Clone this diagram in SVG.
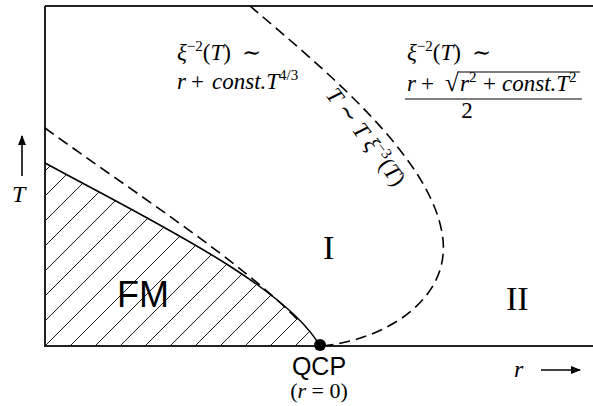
<svg xmlns="http://www.w3.org/2000/svg" width="593" height="406" viewBox="0 0 593 406">
<defs>
<pattern id="hatch" patternUnits="userSpaceOnUse" x="16" y="0" width="25" height="25">
<path d="M-5,5 L5,-5 M0,25 L25,0 M20,30 L30,20" stroke="#000" stroke-width="0.9" fill="none"/>
</pattern>
<marker id="ah" markerWidth="10" markerHeight="8" refX="9" refY="4" orient="auto" markerUnits="userSpaceOnUse">
<path d="M0,0 L10,4 L0,8 Z" fill="#000"/>
</marker>
</defs>
<style>
.ax{stroke:#222;stroke-width:2;fill:none}
.dash{stroke:#000;stroke-width:1.6;fill:none;stroke-dasharray:11,6}
.sol{stroke:#000;stroke-width:1.6;fill:none}
.m{font-family:"Liberation Serif","DejaVu Serif",serif;font-size:23px;fill:#000}
.i{font-style:italic}
.sup{font-size:15px}
.sans{font-family:"Liberation Sans",Arial,sans-serif;fill:#000}
.ser{font-family:"Liberation Serif",serif;fill:#000}
</style>
<g id="region-fm">
<path d="M45,163 C150,220 285,285 320,346 L45,346 Z" fill="url(#hatch)"/>
</g>
<g id="axes">
<path class="ax" d="M45,6 L593,6 M45,6 L45,346 L593,346"/>
</g>
<g id="connectors">
<path id="fm-boundary" class="sol" d="M45,163 C150,220 285,285 320,346"/>
<path id="crossover-low" class="dash" d="M45,128 C130,190 240,260 300,322"/>
<path id="crossover-high" class="dash" d="M250,6 C325,70 435,160 443,240 C449,300 385,340 322,346"/>
<line x1="22" y1="176" x2="22" y2="136" stroke="#000" stroke-width="1.6" marker-end="url(#ah)"/>
<line x1="541" y1="370" x2="580" y2="370" stroke="#000" stroke-width="1.6" marker-end="url(#ah)"/>
</g>
<g id="qcp">
<circle cx="320" cy="345" r="6" fill="#000"/>
<text class="sans" x="319" y="375" font-size="25" text-anchor="middle">QCP</text>
<text class="ser" x="319" y="398" font-size="22" text-anchor="middle">(<tspan class="i">r</tspan> = 0)</text>
</g>
<g id="fm-label"><text class="sans" x="117" y="307" font-size="36">FM</text></g>
<g id="region-I"><text class="ser" x="323" y="259" font-size="34">I</text></g>
<g id="region-II"><text class="ser" x="506" y="310" font-size="34">II</text></g>
<g id="axis-labels">
<text class="ser i" x="12" y="202" font-size="24">T</text>
<text class="ser i" x="514" y="377" font-size="24">r</text>
</g>
<g id="formula-left">
<text class="m" y="60"><tspan x="177" class="i">ξ</tspan><tspan class="sup" dy="-9">−2</tspan><tspan dy="9">(</tspan><tspan class="i">T</tspan>)<tspan x="242">∼</tspan></text>
<text class="m" y="89"><tspan x="177" class="i">r</tspan><tspan x="191">+</tspan><tspan x="212" class="i">const.T</tspan><tspan class="sup" dy="-9">4/3</tspan></text>
</g>
<g id="formula-right">
<text class="m" y="60"><tspan x="407" class="i">ξ</tspan><tspan class="sup" dy="-9">−2</tspan><tspan dy="9">(</tspan><tspan class="i">T</tspan>)<tspan x="472">∼</tspan></text>
<text class="m" y="91"><tspan x="407" class="i">r</tspan><tspan x="421">+</tspan><tspan x="445" font-size="25">√</tspan><tspan x="460" class="i">r</tspan><tspan class="sup" dy="-9">2</tspan><tspan x="483" dy="9">+</tspan><tspan x="502" class="i">const.T</tspan><tspan class="sup" dy="-9">2</tspan></text>
<line x1="458" y1="72" x2="580" y2="72" stroke="#000" stroke-width="1"/>
<line x1="405" y1="99" x2="582" y2="99" stroke="#000" stroke-width="1"/>
<text class="m" x="467" y="118" text-anchor="middle">2</text>
</g>
<g id="curve-label">
<text class="m" transform="translate(325,95) rotate(53)"><tspan class="i">T</tspan> ∼ <tspan class="i">T</tspan> <tspan class="i">ξ</tspan><tspan class="sup" dy="-9">−3</tspan><tspan dy="9">(</tspan><tspan class="i">T</tspan>)</text>
</g>
</svg>
